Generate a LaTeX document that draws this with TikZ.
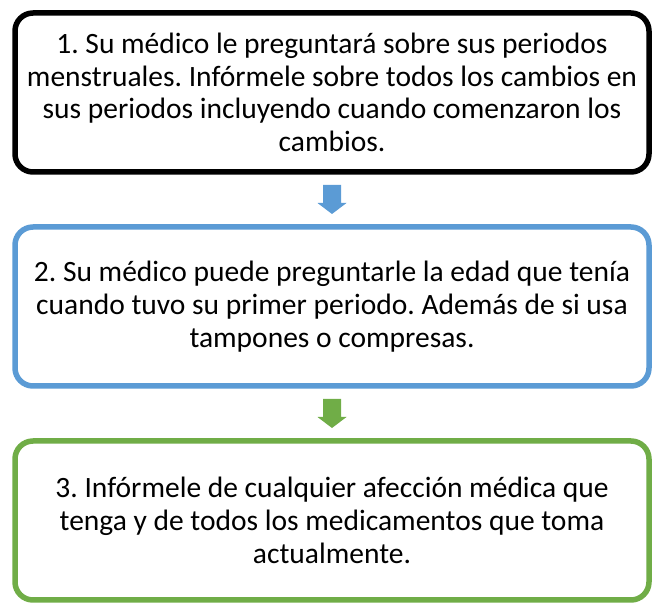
\documentclass[tikz,border=0pt]{standalone}
\usepackage{fontspec}
\setmainfont{Carlito}
\usepackage{tikz}
\usetikzlibrary{calc}
\definecolor{accentblue}{HTML}{5B9BD5}
\definecolor{accentgreen}{HTML}{70AD47}
\frenchspacing

\begin{document}
\begin{tikzpicture}[
        x=1pt, y=1pt,
        stepbox/.style={draw, line width=5.5pt, rounded corners=18pt, fill=white,
            minimum width=634pt, minimum height=159pt, inner sep=0pt,
            align=center, font=\fontsize{29.5}{32.7}\selectfont}
    ]
        \useasboundingbox (0,0) rectangle (662,611);
        % Pasos
        \node[stepbox, draw=black] (paso1) at (332,518.5)
            {1. Su médico le preguntará sobre sus periodos\\
             menstruales. Infórmele sobre todos los cambios en\\
             sus periodos incluyendo cuando comenzaron los\\
             cambios.};
        \node[stepbox, draw=accentblue] (paso2) at (332,304.5)
            {2. Su médico puede preguntarle la edad que tenía\\
             cuando tuvo su primer periodo. Además de si usa\\
             tampones o compresas.};
        \node[stepbox, draw=accentgreen] (paso3) at (332,90.5)
            {3. Infórmele de cualquier afección médica que\\
             tenga y de todos los medicamentos que toma\\
             actualmente.};
        % Flechas entre pasos
        \foreach \de/\a/\col in {paso1/paso2/accentblue, paso2/paso3/accentgreen} {
            \coordinate (m-\de) at ($(\de.south)!0.5!(\a.north)$);
            \fill[\col, shift={(m-\de)}] (-9,14.5) -- (9,14.5) -- (9,-3.5) -- (14.5,-3.5)
                -- (0,-14.5) -- (-14.5,-3.5) -- (-9,-3.5) -- cycle;
        }
    \end{tikzpicture}
\end{document}
